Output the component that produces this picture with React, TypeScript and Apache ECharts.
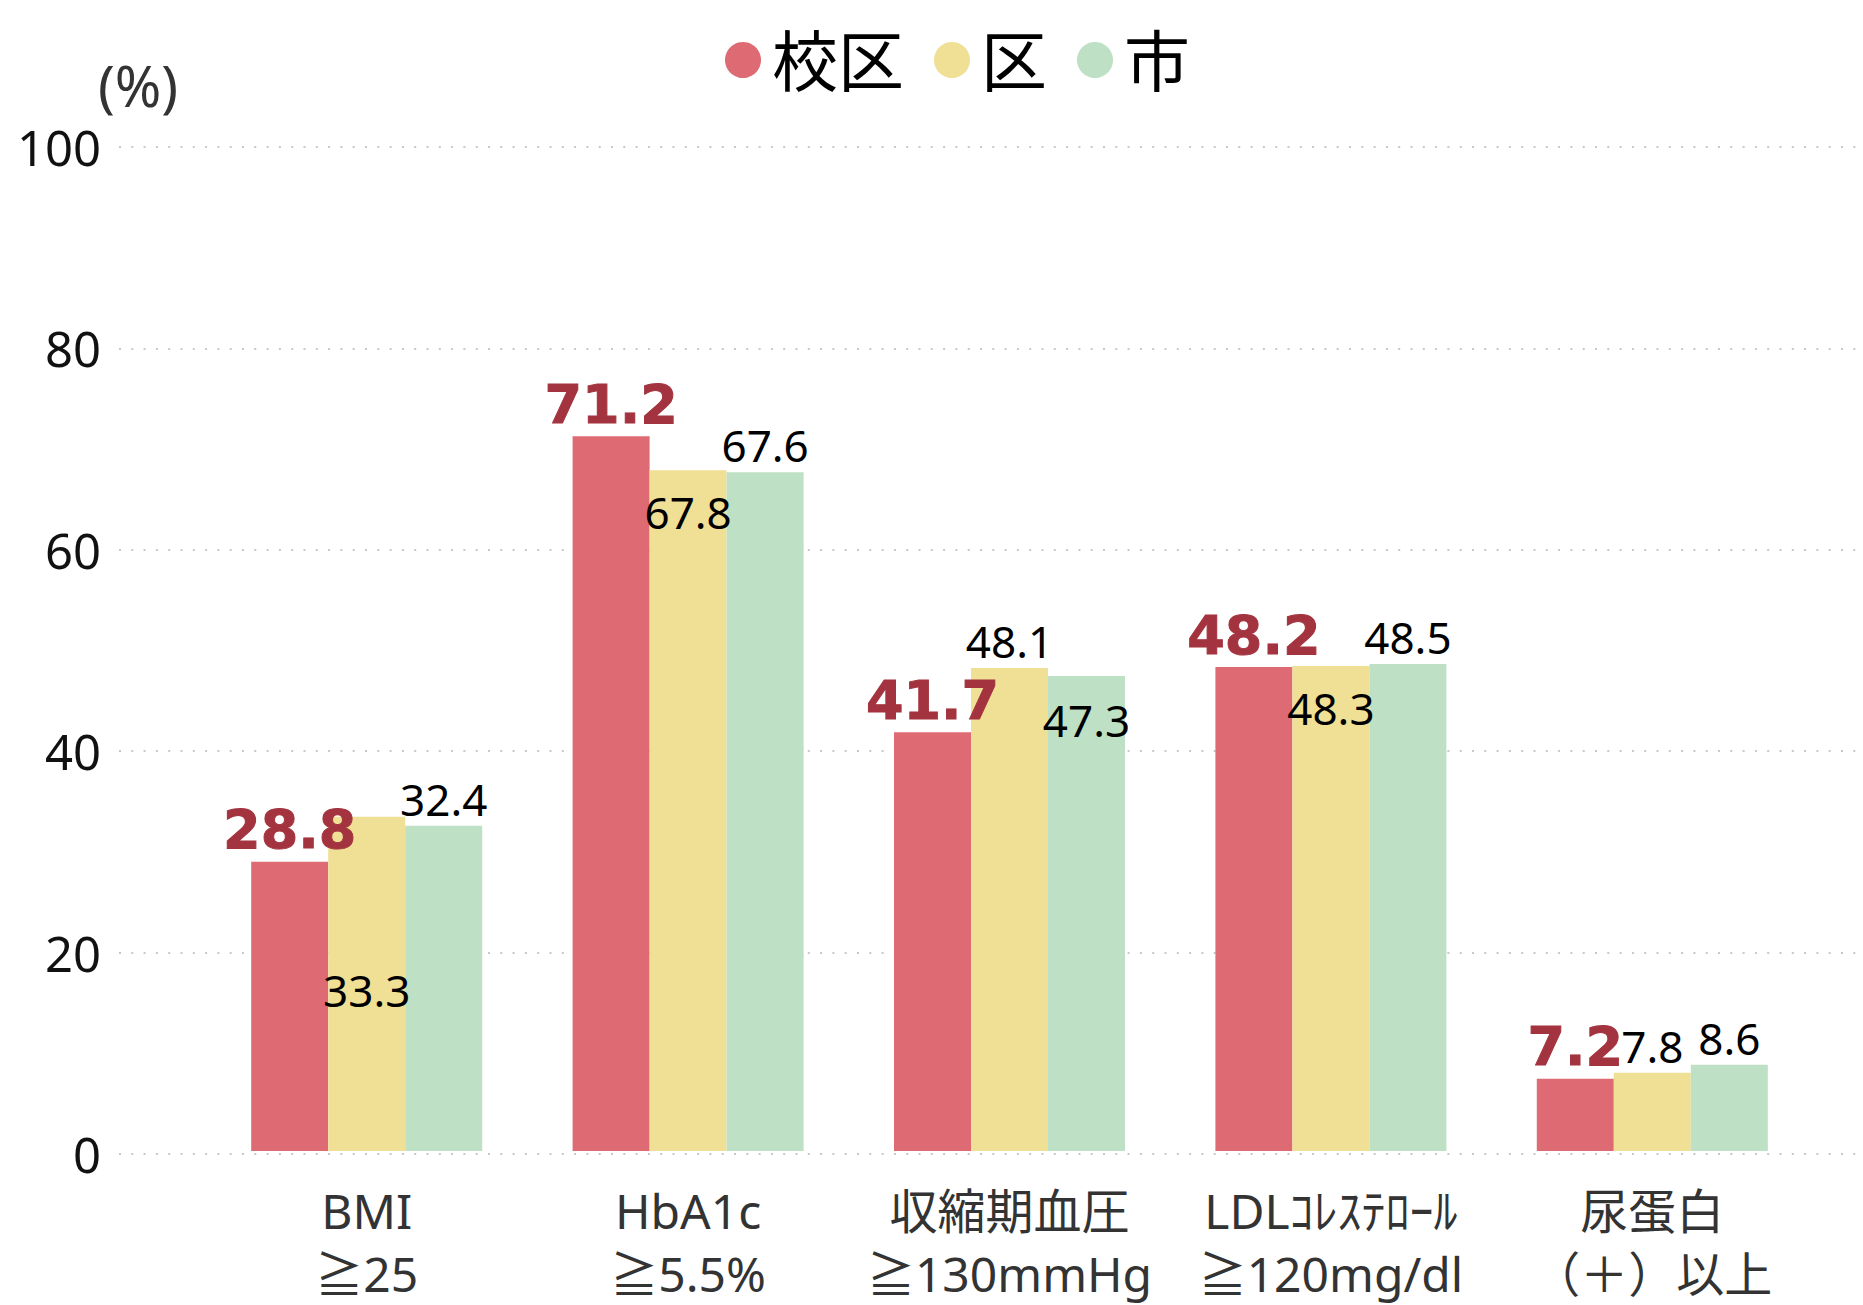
import React, { useEffect, useRef } from "react";
import * as echarts from "echarts";

const categories = [
  "BMI\n≧25",
  "HbA1c\n≧5.5%",
  "収縮期血圧\n≧130mmHg",
  "LDLｺﾚｽﾃﾛｰﾙ\n≧120mg/dl",
  "尿蛋白\n（＋）以上",
];
const seriesNames = ["校区", "区", "市"];
const kokuValues = [28.8, 71.2, 41.7, 48.2, 7.2];
const kuValues = [33.3, 67.8, 48.1, 48.3, 7.8];
const shiValues = [32.4, 67.6, 47.3, 48.5, 8.6];
const yTicks = [0, 20, 40, 60, 80, 100];

// label placement per bar (style only)
const kuLabelPos = ["inside", "insideTop", "top", "insideTop", "top"];
const shiLabelPos = ["top", "top", "insideTop", "top", "top"];

const COLORS = ["#DE6A73", "#F0E096", "#BEE0C4"];
const LABEL_RED = "#A3333E";
const FONT = "'Noto Sans', 'Noto Sans CJK JP', sans-serif";

function buildData(values: number[], positions: string[], insideDist: number) {
  return values.map((v, i) => {
    const p = positions[i];
    const label: any = { position: p };
    if (p === "inside") label.offset = [0, 6];
    if (p === "insideTop") label.distance = insideDist;
    return { value: v, label };
  });
}

export default function App() {
  const ref = useRef<HTMLDivElement>(null);
  useEffect(() => {
    document.body.style.margin = "0";
    if (!ref.current) return;
    const chart = echarts.init(ref.current, undefined, { renderer: "svg" });
    const plainLabel = {
      show: true,
      position: "top",
      color: "#000",
      fontSize: 44,
      fontFamily: FONT,
    };
    chart.setOption({
      animation: false,
      backgroundColor: "#fff",
      legend: {
        data: seriesNames,
        left: 725,
        top: 24,
        padding: 0,
        icon: "circle",
        itemWidth: 36,
        itemHeight: 36,
        itemGap: 30,
        textStyle: {
          fontSize: 66,
          lineHeight: 72,
          color: "#000",
          fontFamily: FONT,
          padding: [0, 0, 0, 6],
        },
      },
      graphic: [
        {
          type: "text",
          x: 138,
          y: 85,
          style: {
            text: "(%)",
            fontSize: 56,
            fontFamily: FONT,
            fill: "#333",
            textAlign: "center",
            textVerticalAlign: "middle",
          },
        },
      ],
      grid: [
        { left: 119, right: 7, top: 147, bottom: 151 },
        { left: 206, right: 50, top: 147, bottom: 151 },
      ],
      xAxis: [
        { type: "value", gridIndex: 0, show: false, min: 0, max: 1 },
        {
          type: "category",
          gridIndex: 1,
          data: categories,
          axisLine: { show: false },
          axisTick: { show: false },
          axisLabel: {
            margin: 28,
            fontSize: 48,
            lineHeight: 63,
            color: "#333",
            fontFamily: FONT,
            interval: 0,
          },
        },
      ],
      yAxis: [
        {
          type: "value",
          gridIndex: 0,
          min: yTicks[0],
          max: yTicks[yTicks.length - 1],
          interval: 20,
          axisLine: { show: false },
          axisTick: { show: false },
          axisLabel: {
            margin: 18,
            fontSize: 49,
            color: "#111",
            fontFamily: FONT,
          },
          splitLine: {
            show: true,
            lineStyle: { color: "#c8c8c8", width: 2, type: [2, 10.3] },
          },
        },
        {
          type: "value",
          gridIndex: 1,
          min: 0,
          max: 100,
          interval: 20,
          show: false,
          splitLine: { show: false },
        },
      ],
      series: [
        {
          name: seriesNames[0],
          type: "bar",
          xAxisIndex: 1,
          yAxisIndex: 1,
          barWidth: 77,
          barGap: "0%",
          itemStyle: { color: COLORS[0] },
          label: {
            show: true,
            position: "top",
            color: LABEL_RED,
            fontSize: 54,
            fontWeight: "bold",
            fontFamily: "'DejaVu Sans', sans-serif",
            textBorderColor: LABEL_RED,
            textBorderWidth: 1,
          },
          data: kokuValues,
        },
        {
          name: seriesNames[1],
          type: "bar",
          xAxisIndex: 1,
          yAxisIndex: 1,
          barWidth: 77,
          barGap: "0%",
          itemStyle: { color: COLORS[1] },
          label: plainLabel,
          data: buildData(kuValues, kuLabelPos, 20),
        },
        {
          name: seriesNames[2],
          type: "bar",
          xAxisIndex: 1,
          yAxisIndex: 1,
          barWidth: 77,
          barGap: "0%",
          itemStyle: { color: COLORS[2] },
          label: plainLabel,
          data: buildData(shiValues, shiLabelPos, 22),
        },
      ],
    });
    return () => chart.dispose();
  }, []);
  return <div ref={ref} style={{ width: 1863, height: 1305 }} />;
}
